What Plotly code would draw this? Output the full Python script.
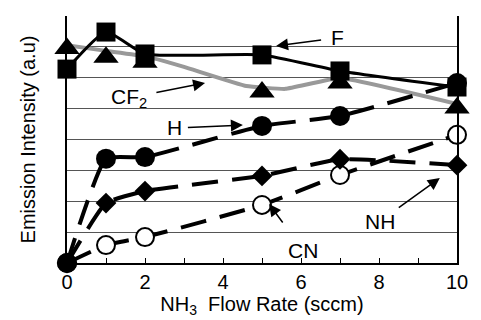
import plotly.graph_objects as go

# ---- data ----
flow = [0, 1, 2, 5, 7, 10]
f_vals = [6.28, 7.48, 6.77, 6.74, 6.22, 5.70]
cf2_vals = [6.95, 6.66, 6.50, 5.54, 5.83, 5.02]
cf2_trend_x = [0, 1, 2, 3, 4.6, 5.6, 7, 10]
cf2_trend_y = [7.05, 6.87, 6.70, 6.35, 5.73, 5.64, 5.99, 5.15]
h_vals = [0, 3.38, 3.43, 4.44, 4.76, 5.83]
nh_vals = [0, 1.94, 2.33, 2.82, 3.36, 3.17]
cn_vals = [0, 0.58, 0.84, 1.88, 2.85, 4.15]
x_ticks = [0, 2, 4, 6, 8, 10]
x_tick_text = ["0", "2", "4", "6", "8", "10"]
label_texts = ["F", "CF<sub>2</sub>", "H", "NH", "CN"]

FONT = "Liberation Sans, Arial, sans-serif"
DASH = "26px,14px"

fig = go.Figure()

fig.add_trace(go.Scatter(x=cf2_trend_x, y=cf2_trend_y, mode="lines", cliponaxis=False,
                         line=dict(color="#999999", width=4, shape="spline", smoothing=0.3),
                         hoverinfo="skip"))
fig.add_trace(go.Scatter(x=flow, y=cn_vals, mode="lines+markers", cliponaxis=False,
                         line=dict(color="black", width=4, dash=DASH, shape="spline", smoothing=0.4),
                         marker=dict(symbol="circle", size=18, color="white",
                                     line=dict(color="black", width=2))))
fig.add_trace(go.Scatter(x=flow, y=nh_vals, mode="lines+markers", cliponaxis=False,
                         line=dict(color="black", width=4, dash=DASH, shape="spline", smoothing=0.4),
                         marker=dict(symbol="diamond", size=16, color="black")))
fig.add_trace(go.Scatter(x=flow, y=h_vals, mode="lines+markers", cliponaxis=False,
                         line=dict(color="black", width=4, dash=DASH, shape="spline", smoothing=0.4),
                         marker=dict(symbol="circle", size=20, color="black")))
fig.add_trace(go.Scatter(x=flow, y=cf2_vals, mode="markers", cliponaxis=False,
                         marker=dict(symbol="triangle-up", size=22, color="black")))
fig.add_trace(go.Scatter(x=flow, y=f_vals, mode="lines+markers", cliponaxis=False,
                         line=dict(color="black", width=3, shape="spline", smoothing=0.5),
                         marker=dict(symbol="square", size=19, color="black")))

# labelled arrows: head (x, y in data), text offset (ax, ay in px), tail gap
arrow_specs = [(5.36, 7.03, 61, -8, 8), (3.54, 5.83, -76, 15, 8), (4.51, 4.47, -68, 3, 4),
               (9.56, 2.75, -60, 43, 3), (5.18, 1.91, 34, 46, 18)]
for t, (x, y, ax, ay, gap) in zip(label_texts, arrow_specs):
    fig.add_annotation(x=x, y=y, ax=ax, ay=ay, text=t, showarrow=True,
                       arrowhead=2, arrowsize=1.6, arrowwidth=1.5, arrowcolor="black",
                       startstandoff=gap,
                       font=dict(family=FONT, size=21, color="black"))

fig.update_layout(
    width=481, height=320,
    margin=dict(l=59, r=32, t=8, b=65),
    paper_bgcolor="white", plot_bgcolor="white",
    showlegend=False,
    font=dict(family=FONT, size=20, color="black"),
    xaxis=dict(range=[0, 10], tickvals=x_ticks, ticktext=x_tick_text,
               ticks="inside", ticklen=5, tickcolor="black",
               minor=dict(dtick=1, ticks="inside", ticklen=5, tickcolor="black", showgrid=False),
               showgrid=False, zeroline=False,
               showline=True, linecolor="black", linewidth=1.5, mirror=False,
               tickfont=dict(family=FONT, size=20),
               title=dict(text="NH<sub>3</sub>  Flow Rate (sccm)", standoff=4,
                          font=dict(family=FONT, size=20))),
    yaxis=dict(range=[0, 8], dtick=1, showticklabels=False, ticks="",
               showgrid=True, gridcolor="#555555", gridwidth=1,
               zeroline=False, showline=True, linecolor="black", linewidth=1.5, mirror=True,
               title=dict(text="Emission Intensity (a.u)", standoff=24,
                          font=dict(family=FONT, size=20))),
)

fig.write_html("out.html")
